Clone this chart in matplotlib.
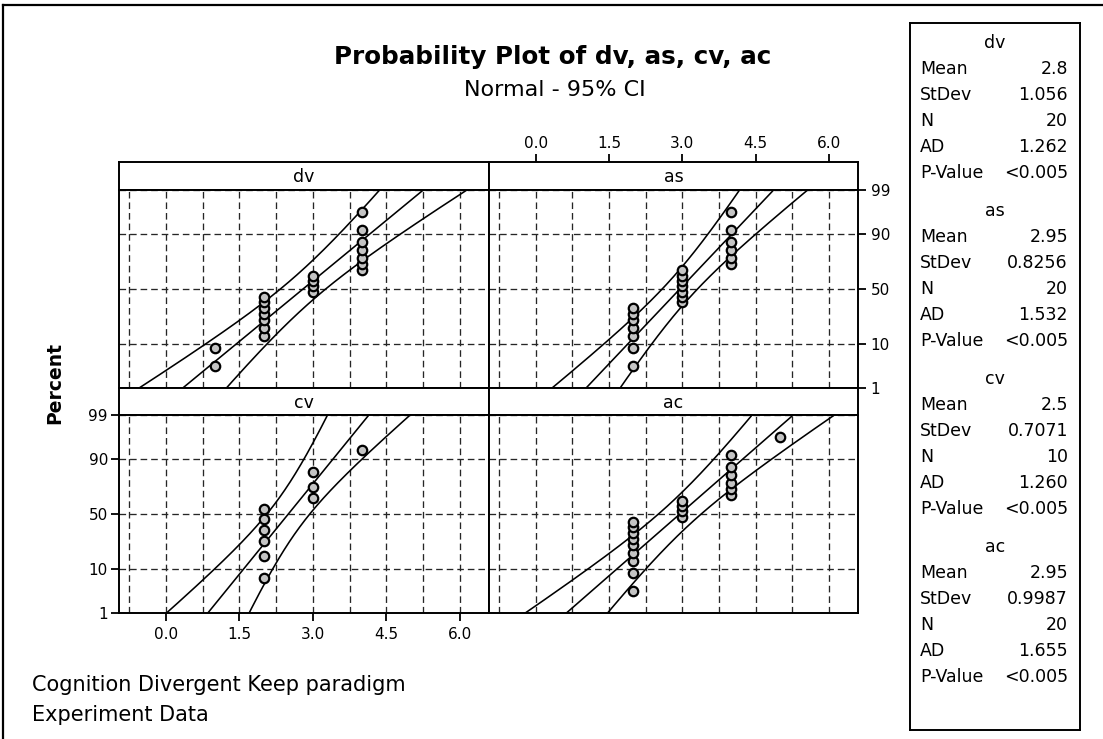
import numpy as np
import matplotlib
matplotlib.use("Agg")
import matplotlib.pyplot as plt
from matplotlib.lines import Line2D
from matplotlib.ticker import NullLocator
from statistics import NormalDist

# raw observations, one list per variable
dv = [1, 1, 2, 2, 2, 2, 2, 2, 2, 3, 3, 3, 3, 4, 4, 4, 4, 4, 4, 4]
as_ = [2, 2, 2, 2, 2, 2, 2, 3, 3, 3, 3, 3, 3, 3, 4, 4, 4, 4, 4, 4]
cv = [2, 2, 2, 2, 2, 2, 3, 3, 3, 4]
ac = [2, 2, 2, 2, 2, 2, 2, 2, 2, 3, 3, 3, 3, 4, 4, 4, 4, 4, 4, 5]

names = ["dv", "as", "cv", "ac"]
series = [dv, as_, cv, ac]
means = [2.8, 2.95, 2.5, 2.95]
stdevs = [1.056, 0.8256, 0.7071, 0.9987]
counts = [20, 20, 10, 20]
ad_stats = ["1.262", "1.532", "1.260", "1.655"]
p_values = ["<0.005", "<0.005", "<0.005", "<0.005"]

pct_ticks = [1, 10, 50, 90, 99]
x_ticks = [0.0, 1.5, 3.0, 4.5, 6.0]
x_minor = [-0.75, 0.75, 2.25, 3.75, 5.25]

W, H = 1103, 739
nd = NormalDist()


def to_z(p):
    p = np.clip(np.asarray(p, dtype=float) / 100.0, 1e-6, 1 - 1e-6)
    return np.vectorize(nd.inv_cdf, otypes=[float])(p)


def from_z(z):
    return np.vectorize(nd.cdf, otypes=[float])(np.asarray(z, dtype=float)) * 100.0


def box(x0, y0, x1, y1):
    # pixel rectangle (top-left origin) -> figure fraction
    return [x0 / W, 1 - y1 / H, (x1 - x0) / W, (y1 - y0) / H]


def fx(x):
    return x / W


def fy(y):
    return 1 - y / H


fig = plt.figure(figsize=(W / 100, H / 100), dpi=100)

cols = [(119, 489), (489, 858)]
rows = [(162, 190, 388), (388, 415, 613)]
xlim = (-0.96, 6.6)
grid_kw = dict(color="0.15", lw=0.95, linestyle=(0, (5, 3)))

for i, name in enumerate(names):
    x0, x1 = cols[i % 2]
    st, dt, db = rows[i // 2]

    # title strip above each panel
    ax_s = fig.add_axes(box(x0, st, x1, dt))
    ax_s.set_xlim(xlim)
    ax_s.set_ylim(0, 1)
    ax_s.set_yticks([])
    ax_s.text(0.5, 0.45, name, transform=ax_s.transAxes, ha="center",
              va="center", fontsize=12.5)
    for sp in ax_s.spines.values():
        sp.set_linewidth(1.4)
    if i == 1:
        ax_s.set_xticks(x_ticks)
        ax_s.set_xticklabels([f"{t:.1f}" for t in x_ticks])
        ax_s.xaxis.tick_top()
        ax_s.tick_params(axis="x", direction="out", length=6, width=1.3,
                         labelsize=11, pad=2)
    else:
        ax_s.set_xticks([])

    ax = fig.add_axes(box(x0, dt, x1, db))
    ax.set_yscale("function", functions=(to_z, from_z))
    ax.set_ylim(1, 99)
    ax.set_xlim(xlim)
    ax.set_xticks(x_ticks)
    ax.set_xticks(x_minor, minor=True)
    ax.set_yticks(pct_ticks)
    ax.set_yticklabels([str(p) for p in pct_ticks])
    ax.yaxis.set_minor_locator(NullLocator())
    ax.set_xticklabels([f"{t:.1f}" for t in x_ticks])
    ax.grid(True, which="both", **grid_kw)
    ax.set_axisbelow(True)
    for sp in ax.spines.values():
        sp.set_linewidth(1.4)
    ax.tick_params(which="both", length=0, labelbottom=False, labelleft=False)
    ax.tick_params(axis="both", labelsize=11)
    if i == 2:
        ax.tick_params(axis="x", which="major", length=6, width=1.3,
                       labelbottom=True, pad=4)
        ax.tick_params(axis="y", which="major", length=6, width=1.3,
                       labelleft=True, pad=2)
    if i == 1:
        ax.yaxis.tick_right()
        ax.tick_params(axis="y", which="major", length=6, width=1.3,
                       labelright=True, pad=3)

    # fitted normal line with 95% confidence band
    m, s, n = means[i], stdevs[i], counts[i]
    z = np.linspace(-3.2, 3.2, 300)
    pct = from_z(z)
    fit = m + s * z
    half = 1.96 * s * np.sqrt(1.0 / n + z ** 2 / (2.0 * n))
    for xs in (fit - half, fit, fit + half):
        ax.plot(xs, pct, color="black", lw=1.15, zorder=3)

    # observations at median-rank plotting positions
    vals = np.sort(np.asarray(series[i], dtype=float))
    ranks = np.arange(1, len(vals) + 1)
    pos = (ranks - 0.3) / (len(vals) + 0.4) * 100.0
    ax.plot(vals, pos, "o", ms=6.8, mfc="#c4c4c4", mec="black", mew=1.6,
            zorder=4)

# titles
fig.text(fx(553), fy(57), "Probability Plot of dv, as, cv, ac",
         ha="center", va="center", fontsize=17.7, fontweight="bold")
fig.text(fx(555), fy(90), "Normal - 95% CI", ha="center", va="center",
         fontsize=16)
fig.text(fx(55), fy(383), "Percent", rotation=90, ha="center", va="center",
         fontsize=13.5, fontweight="bold")

# footnote
fig.text(fx(32), fy(685), "Cognition Divergent Keep paradigm", ha="left",
         va="center", fontsize=15)
fig.text(fx(32), fy(715), "Experiment Data", ha="left", va="center",
         fontsize=15)

# summary statistics panel
ax_b = fig.add_axes(box(910, 23, 1080, 730))
ax_b.set_xticks([])
ax_b.set_yticks([])
for sp in ax_b.spines.values():
    sp.set_linewidth(1.4)

row_labels = ["Mean", "StDev", "N", "AD", "P-Value"]
row_offsets = [26, 52, 78, 104, 130]
for g, name in enumerate(names):
    top = 43 + g * 168
    fig.text(fx(995), fy(top), name, ha="center", va="center", fontsize=12.5)
    values = [str(means[g]), str(stdevs[g]), str(counts[g]), ad_stats[g],
              p_values[g]]
    for lab, val, off in zip(row_labels, values, row_offsets):
        fig.text(fx(920), fy(top + off), lab, ha="left", va="center",
                 fontsize=12.5)
        fig.text(fx(1068), fy(top + off), val, ha="right", va="center",
                 fontsize=12.5)

# outer frame (top and left edges)
fig.add_artist(Line2D([fx(3), fx(1103)], [fy(5), fy(5)], color="black",
                      lw=1.6))
fig.add_artist(Line2D([fx(3), fx(3)], [fy(5), fy(739)], color="black",
                      lw=1.6))

fig.savefig("out.png", dpi=100)
